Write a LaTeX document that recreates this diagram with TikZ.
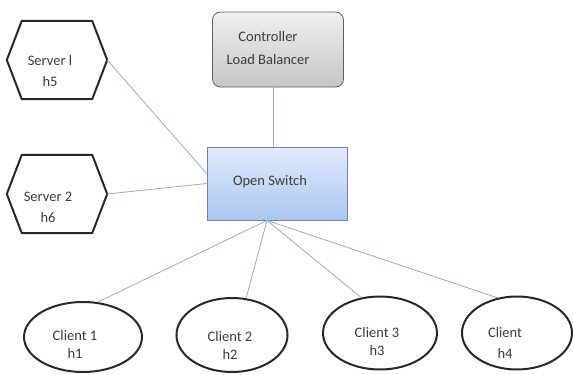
\documentclass[tikz,border=0pt]{standalone}
\usepackage{fontspec}
\setmainfont{Carlito}
\usetikzlibrary{calc,shapes.geometric}
\definecolor{link}{RGB}{150,172,205}
\definecolor{ink}{RGB}{40,40,40}
\definecolor{txt}{RGB}{60,60,60}
\begin{document}
\begin{tikzpicture}[x=1pt,y=-1pt,
  lbl/.style={text=txt,align=center,inner sep=0pt,font=\fontsize{14.5}{21}\selectfont},
  hexbox/.style={minimum width=100pt,minimum height=78pt,inner sep=0pt},
  hexline/.style={draw=ink,line width=2pt,line join=round},
  client/.style={ellipse,draw=ink,line width=2pt,inner sep=0pt},
  link/.style={draw=link,line width=0.8pt},
  ctrlbox/.style={draw=gray!75!black,line width=0.8pt,rounded corners=8pt,
    top color=gray!12,bottom color=gray!45,minimum width=131pt,minimum height=75pt},
  switchbox/.style={draw=blue!30!gray!80,line width=0.8pt,
    top color={rgb,255:red,225;green,235;blue,252},bottom color={rgb,255:red,170;green,198;blue,240},
    minimum width=140pt,minimum height=73pt}]
\useasboundingbox (0,0) rectangle (574,375);

% servers (hexagons)
\node[hexbox] (s1) at (57,60) {};
\node[hexbox] (s2) at (57,194) {};
\foreach \s in {s1,s2}{
  \draw[hexline] (\s.west) -- ($(\s.north west)+(15,0)$) -- ($(\s.north east)+(-15,0)$)
    -- (\s.east) -- ($(\s.south east)+(-15,0)$) -- ($(\s.south west)+(15,0)$) -- cycle;
}
\node[lbl] (s1t) at (50,71) {Server l\\h5};
\node[lbl] (s2t) at (48,207) {Server 2\\h6};

% controller and switch
\node[ctrlbox] (ctrl) at (278,49.5) {};
\node[lbl,font=\fontsize{14.5}{23}\selectfont] (ctrlt) at (268,48) {Controller\\Load Balancer};
\node[switchbox] (sw) at (277,183.5) {};
\node[lbl] (swt) at (270,182) {Open Switch};

% clients
\node[client,minimum width=118pt,minimum height=70pt] (c1) at (83,337) {};
\node[client,minimum width=111pt,minimum height=74pt] (c2) at (232,335) {};
\node[client,minimum width=114pt,minimum height=73pt] (c3) at (380,333) {};
\node[client,minimum width=110pt,minimum height=73pt] (c4) at (517,333) {};
\node[lbl,font=\fontsize{14.5}{18}\selectfont] (c1t) at (75,344) {Client 1\\h1};
\node[lbl,font=\fontsize{14.5}{18}\selectfont] (c2t) at (230,345) {Client 2\\h2};
\node[lbl,font=\fontsize{14.5}{18}\selectfont] (c3t) at (377,342) {Client 3\\h3};
\node[lbl,font=\fontsize{14.5}{21}\selectfont] (c4t) at (505,343) {Client\\h4};

% connections
\coordinate (hub) at ([xshift=-10pt]sw.south);
\draw[link] ([xshift=-5pt]ctrl.south) -- ([xshift=-4pt]sw.north);
\draw[link] (s1.east) -- ([yshift=10pt]sw.west);
\draw[link] (s2.east) -- (sw.west);
\draw[link] (hub) -- (c1.67);
\draw[link] (hub) -- (c2.69);
\draw[link] (hub) -- (c3.118);
\draw[link] (hub) -- (c4.119);
\end{tikzpicture}
\end{document}
